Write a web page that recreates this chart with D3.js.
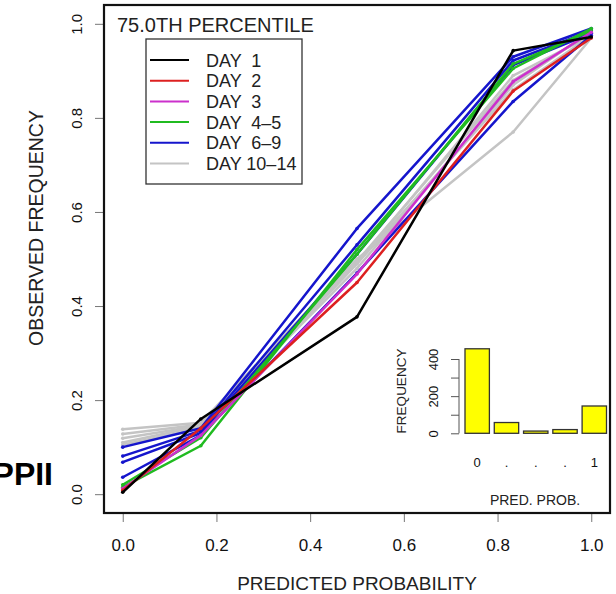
<!DOCTYPE html>
<html>
<head>
<meta charset="utf-8">
<script src="https://cdn.jsdelivr.net/npm/d3@7"></script>
<style>
  body { margin: 0; background: #fff; }
  svg { display: block; font-family: "Liberation Sans", Arial, sans-serif; }
  text { white-space: pre; }
</style>
</head>
<body>
<svg id="chart" width="616" height="594"></svg>
<script>
// data
var prob_bins = [0, 1/6, 1/2, 5/6, 1];
var day_groups = ["DAY  1", "DAY  2", "DAY  3", "DAY  4\u20135", "DAY  6\u20139", "DAY 10\u201314"];
var group_cols = ["#000000", "#dd2020", "#cc30cc", "#20bb20", "#1515cc", "#c4c4c4"];

var day1 = [[0.004, 0.16, 0.377, 0.943, 0.972]];
var day2 = [[0.008, 0.14, 0.45, 0.857, 0.97]];
var day3 = [[0.012, 0.125, 0.468, 0.877, 0.982]];
var day4_5 = [[0.015, 0.103, 0.52, 0.905, 0.99],
              [0.02, 0.12, 0.51, 0.915, 0.985]];
var day6_9 = [[0.1, 0.14, 0.565, 0.93, 0.99],
              [0.081, 0.135, 0.53, 0.922, 0.985],
              [0.068, 0.13, 0.51, 0.912, 0.98],
              [0.036, 0.125, 0.47, 0.835, 0.975]];
var day10_14 = [[0.138, 0.152, 0.5, 0.77, 0.97],
                [0.128, 0.148, 0.49, 0.86, 0.975],
                [0.119, 0.146, 0.495, 0.88, 0.98],
                [0.11, 0.145, 0.48, 0.87, 0.985],
                [0.105, 0.14, 0.49, 0.89, 0.975]];
var all_days = [day1, day2, day3, day4_5, day6_9, day10_14];

var axis_ticks = [0, 0.2, 0.4, 0.6, 0.8, 1.0];

var hist_labels = ["0", ".", ".", ".", "1"];
var hist_counts = [455, 58, 12, 20, 147];
var hist_ticks = [0, 100, 200, 300, 400];

var chart = d3.select("#chart");

// main plot, R style 4% padding on the axes
var x = d3.scaleLinear().domain([-0.04, 1.04]).range([104, 610]);
var y = d3.scaleLinear().domain([-0.04, 1.04]).range([513, 5]);

function draw_axes () {
  var xa = chart.append("g")
                .attr("transform", "translate(0,514)")
                .call(d3.axisBottom(x).tickValues(axis_ticks).tickSize(8).tickPadding(17)
                        .tickFormat(d3.format(".1f")));
  xa.select(".domain").remove();
  xa.selectAll("line").attr("stroke", "#777");
  xa.selectAll("text").style("font-size", "17px").attr("fill", "#111");

  var ya = chart.append("g")
                .attr("transform", "translate(103,0)")
                .call(d3.axisLeft(y).tickValues(axis_ticks).tickSize(8)
                        .tickFormat(d3.format(".1f")));
  ya.select(".domain").remove();
  ya.selectAll("line").attr("stroke", "#777");
  // rotated labels like R's las=0
  ya.selectAll(".tick text")
    .attr("x", null).attr("dy", null).attr("y", 0)
    .attr("text-anchor", "middle")
    .attr("transform", "translate(-21,0) rotate(-90)")
    .style("font-size", "15px").attr("fill", "#111");

  chart.append("text")
       .attr("x", 357).attr("y", 590)
       .attr("text-anchor", "middle")
       .style("font-size", "19px").attr("fill", "#222")
       .text("PREDICTED PROBABILITY");
  chart.append("text")
       .attr("transform", "translate(43,228) rotate(-90)")
       .attr("text-anchor", "middle")
       .style("font-size", "19.5px").attr("fill", "#222")
       .text("OBSERVED FREQUENCY");
}

function draw_lines () {
  var line = d3.line()
               .x(function (d, i) { return x(prob_bins[i]); })
               .y(function (d) { return y(d); });
  // longest lead first so day 1 sits on top
  for (var g = all_days.length - 1; g >= 0; g--) {
    var runs = all_days[g];
    for (var r = 0; r < runs.length; r++) {
      chart.append("path")
           .datum(runs[r])
           .attr("d", line)
           .attr("fill", "none")
           .attr("stroke", group_cols[g])
           .attr("stroke-width", 2.5)
           .attr("stroke-linejoin", "round");
      chart.append("g").selectAll("circle")
           .data(runs[r])
           .enter().append("circle")
           .attr("cx", function (d, i) { return x(prob_bins[i]); })
           .attr("cy", function (d) { return y(d); })
           .attr("r", 1.8)
           .attr("fill", group_cols[g]);
    }
  }
}

function draw_legend () {
  chart.append("text")
       .attr("x", 117).attr("y", 32)
       .style("font-size", "20px").attr("fill", "#222")
       .text("75.0TH PERCENTILE");
  chart.append("rect")
       .attr("x", 146).attr("y", 39)
       .attr("width", 156).attr("height", 145)
       .attr("fill", "#fff")
       .attr("stroke", "#333").attr("stroke-width", 1.3);
  var rows = chart.append("g").selectAll("g")
                  .data(day_groups)
                  .enter().append("g")
                  .attr("transform", function (d, i) { return "translate(0," + (60 + i * 20.7) + ")"; });
  rows.append("line")
      .attr("x1", 150).attr("x2", 189)
      .attr("stroke", function (d, i) { return group_cols[i]; })
      .attr("stroke-width", 2);
  rows.append("text")
      .attr("x", 206).attr("y", 6.5)
      .style("font-size", "18px").attr("fill", "#222")
      .text(function (d) { return d; });
}

function draw_inset () {
  var hx = d3.scaleBand().domain(d3.range(hist_counts.length))
             .range([465, 606.5]).paddingInner(1/6).paddingOuter(0);
  var hy = d3.scaleLinear().domain([0, 400]).range([433.3, 359]);

  chart.append("g").selectAll("rect")
       .data(hist_counts)
       .enter().append("rect")
       .attr("x", function (d, i) { return hx(i); })
       .attr("y", function (d) { return hy(d); })
       .attr("width", hx.bandwidth())
       .attr("height", function (d) { return hy(0) - hy(d); })
       .attr("fill", "#ffff00")
       .attr("stroke", "#333").attr("stroke-width", 1.3);

  var ha = chart.append("g")
                .attr("transform", "translate(459,0)")
                .call(d3.axisLeft(hy).tickValues(hist_ticks).tickSize(8)
                        .tickFormat(function (d) { return d % 200 === 0 ? d : ""; }));
  ha.select(".domain").attr("d", "M0," + hy(0) + "V" + hy(400)).attr("stroke", "#555");
  ha.selectAll("line").attr("stroke", "#555");
  ha.selectAll(".tick text")
    .attr("x", null).attr("dy", null).attr("y", 0)
    .attr("text-anchor", "middle")
    .attr("transform", "translate(-21,0) rotate(-90)")
    .style("font-size", "13px").attr("fill", "#111");

  chart.append("g").selectAll("text")
       .data(hist_labels)
       .enter().append("text")
       .attr("x", function (d, i) { return hx(i) + hx.bandwidth() / 2; })
       .attr("y", 467)
       .attr("text-anchor", "middle")
       .style("font-size", "13px").attr("fill", "#111")
       .text(function (d) { return d; });

  chart.append("text")
       .attr("x", 535).attr("y", 505)
       .attr("text-anchor", "middle")
       .style("font-size", "14px").attr("fill", "#222")
       .text("PRED. PROB.");
  chart.append("text")
       .attr("transform", "translate(406,391) rotate(-90)")
       .attr("text-anchor", "middle")
       .style("font-size", "13.5px").attr("fill", "#222")
       .text("FREQUENCY");
}

draw_axes();
draw_lines();
draw_legend();
draw_inset();

// plot frame
chart.append("rect")
     .attr("x", x(-0.04)).attr("y", y(1.04))
     .attr("width", x(1.04) - x(-0.04))
     .attr("height", y(-0.04) - y(1.04))
     .attr("fill", "none")
     .attr("stroke", "#111").attr("stroke-width", 2.2);

// panel tag, cut off at the left edge like the original
chart.append("text")
     .attr("x", 53).attr("y", 485)
     .attr("text-anchor", "end")
     .style("font-size", "32px").style("font-weight", "bold")
     .attr("fill", "#000")
     .text("PPII");
</script>
</body>
</html>
